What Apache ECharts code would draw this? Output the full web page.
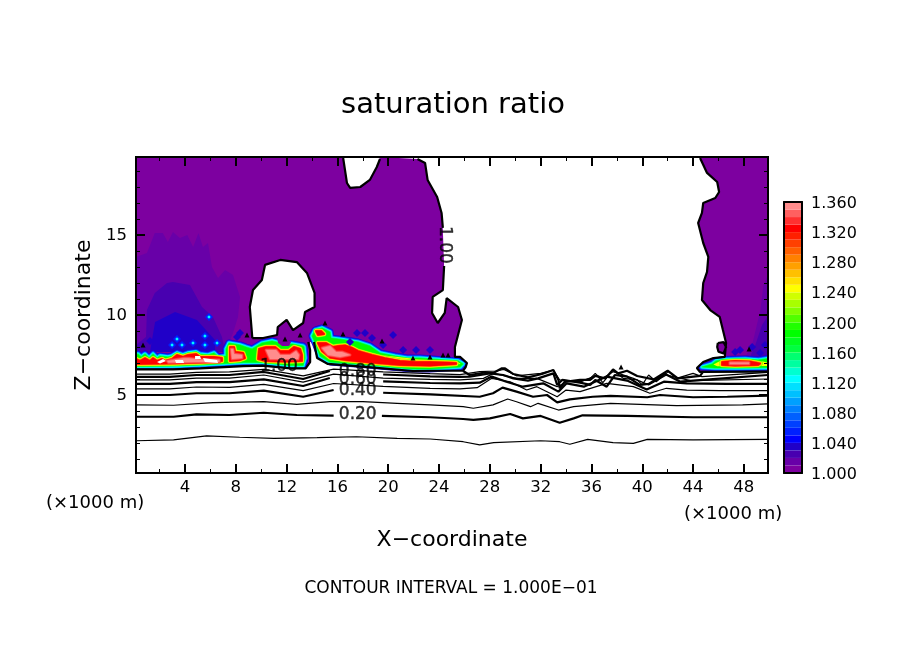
<!DOCTYPE html>
<html>
<head>
<meta charset="utf-8">
<style>html,body{margin:0;padding:0;background:#fff}#chart{width:904px;height:654px}</style>
<script src="https://cdn.jsdelivr.net/npm/echarts@6/dist/echarts.min.js"></script>
</head>
<body>
<div id="chart"></div>
<script>
// axis ranges and ticks (km)
const xRange = [0.14, 49.9];
const zRange = [0.125, 19.875];
const xMajor = [4, 8, 12, 16, 20, 24, 28, 32, 36, 40, 44, 48];
const xMinor = [2, 6, 10, 14, 18, 22, 26, 30, 34, 38, 42, 46];
const zMajor = [5, 10, 15];
const zMinor = [1, 2, 3, 4, 6, 7, 8, 9, 11, 12, 13, 14, 16, 17, 18, 19];
const barTicks = [1.00, 1.01, 1.02, 1.03, 1.04, 1.05, 1.06, 1.07, 1.08, 1.09, 1.10, 1.11, 1.12, 1.13, 1.14, 1.15, 1.16, 1.17,
  1.18, 1.19, 1.20, 1.21, 1.22, 1.23, 1.24, 1.25, 1.26, 1.27, 1.28, 1.29, 1.30, 1.31, 1.32, 1.33, 1.34, 1.35];

// contour lines, null = gap for a label
const contour01 = [[0.14,2.14],[3.1,2.19],[5.7,2.44],[8.3,2.36],[11,2.29],[14.4,2.33],[17.5,2.39],[20.7,2.29],[23.3,2.25],[25.9,2.08],[27.2,1.88],[28.3,2.02],[32,2.14],[33.5,2.08],[34.3,1.92],[35.7,2.23],[37.7,2.02],[39.3,1.98],[40.4,2.23],[44,2.19],[49.9,2.23]];
const contour02 = [[0.14,3.64],[3.1,3.64],[4.9,3.79],[7.5,3.75],[10.2,3.89],[12.8,3.75],[15.7,3.71],null,[19.5,3.69],[23.3,3.61],[25.9,3.5],[26.7,3.44],[28,3.54],[29.6,3.81],[30.6,3.54],[32,3.69],[33.5,3.27],[34.6,3.54],[35.3,3.73],[38.8,3.69],[44,3.61],[49.9,3.61]];
const contour03 = [[0.14,4.38],[3.1,4.36],[6.2,4.52],[10.2,4.58],[12.8,4.42],[15.4,4.58],[18,4.58],[20.7,4.48],[23.3,4.38],[25.9,4.27],[26.7,4.17],[28.25,4.38],[29.4,4.75],[30.1,4.58],[31.2,4.27],[31.8,4.48],[33.4,4.06],[34.6,4.27],[37.5,4.48],[42.7,4.33],[47.9,4.38],[49.9,4.44]];
const contour04 = [[0.14,5],[2.8,5],[4.9,5.11],[7.5,5.11],[10.2,5.27],[13.3,4.89],[15.7,5.31],null,[19.6,5.14],[23.3,5.04],[27.2,4.89],[28.25,5.11],[29,5.46],[30.1,5.21],[31.4,4.89],[32.5,5],[33.3,4.54],[34.3,4.73],[36.1,4.89],[37.5,4.94],[40.4,4.86],[41.4,5],[44,4.86],[46.7,4.89],[49.9,4.96]];
const contour05 = [[0.14,5.38],[2.8,5.38],[4.9,5.5],[7.5,5.48],[10.2,5.66],[13.3,5.27],[15.7,5.72],[19.6,5.54],[23.3,5.42],[25.65,5.38],[27,5.46],[28.15,6.04],[29.6,5.83],[30.9,5.31],[31.7,5.52],[33.3,4.89],[34,5.31],[35.1,5.21],[37.2,5.73],[39.3,5.52],[40.6,5.11],[41.9,5.42],[43.5,5.31],[46.1,5.27],[49.9,5.27]];
const contour06 = [[0.14,5.69],[2.8,5.69],[4.9,5.81],[7.5,5.8],[10.2,5.98],[13.3,5.56],[15.4,6.06],null,[19.6,5.85],[23.3,5.75],[25.65,5.73],[27.2,5.77],[28.15,6.15],[29.3,5.83],[30.6,5.52],[32.2,5.73],[33.4,5.21],[34.05,5.73],[35.4,5.52],[37.2,6.15],[38.8,5.9],[40.35,5.35],[41.7,5.83],[43.5,5.73],[46.65,5.69],[49.9,5.69]];
const contour07 = [[0.14,5.94],[2.8,5.94],[4.9,6.06],[7.5,6.05],[10.2,6.25],[13.3,5.8],[15.7,6.3],[19.6,6.06],[23.3,5.98],[25.65,5.94],[27.5,6.04],[28.3,6.35],[30.1,6.04],[31.7,6.04],[33.3,5.52],[34.05,5.83],[35.2,5.83],[36.4,6.25],[36.9,6.04],[37.7,6.46],[39.3,6.04],[40.5,5.63],[41.9,6.25],[43.8,5.9],[49.9,6]];
const contour08 = [[0.14,6.13],[2.8,6.13],[4.9,6.25],[7.5,6.25],[10.2,6.44],[13.3,6],[15.4,6.5],null,[19.6,6.28],[23.3,6.17],[25.65,6.13],[26.4,6.15],[28,6.35],[29.05,6.25],[29.85,6.04],[31,5.9],[31.8,6.04],[33,6.35],[33.3,5.63],[33.7,5.94],[35.1,5.77],[35.9,5.63],[36.3,5.94],[37.2,5.52],[37.85,6.25],[38.8,6.15],[39.8,5.63],[40.5,5.69],[41.8,6.31],[43,5.83],[45.3,5.98],[49.9,6.25]];
const contour09 = [[0.14,6.31],[2.8,6.31],[4.9,6.42],[7.5,6.45],[10.2,6.6],[13.3,6.2],[15.7,6.62],[19.6,6.45],[23.3,6.33],[25.65,6.27],[27.2,6.46],[28.5,6.5],[29.1,6.6],[30.1,6.2],[32,6.35],[33,6.56],[33.5,5.94],[34.85,5.83],[35.9,6.04],[36.3,6.35],[36.9,5.77],[37.7,6.56],[38.5,6.04],[39.6,5.94],[40,5.63],[40.5,6.25],[41.1,5.83],[42.05,6.46],[42.7,6.04],[44,6.35],[44.7,6.15],[49.9,6.42]];
const contour10 = [
  [0.14,6.6],[3.05,6.6],[5.2,6.67],[8.6,6.81],[10.1,6.83],[12.3,6.67],[13.5,6.67],[13.85,7.06],[13.85,7.81],[13.7,8.31],null,
  [14.15,8.31],[14.4,7.31],[15.25,6.94],[18,6.77],[21.95,6.5],[25.9,6.53],[26.1,6.75],[26.2,7],[25.65,7.38],[25.25,7.38],[25.25,8],[25.8,9.69],[25.5,10.5],[24.6,11.06],[24.45,10.13],[23.9,9.5],[23.45,10.13],[23.5,11.13],[24.3,11.56],[24.4,13.06],null,
  [24.3,15.44],[24.2,16.38],[23.85,17.38],[23.1,18.44],[22.9,19.5],[22.3,19.75],null,
  [16.45,19.81],[16.75,18.25],[17,17.94],[17.8,18],[18.55,18.44],[19.1,19.25],[19.35,19.75],null,
  [9.3,8.56],[9.1,10.5],[9.35,11.56],[10.05,12.19],[10.3,13.13],[11.5,13.44],[12.8,13.31],[13.6,12.63],[14.2,11.38],[14.2,10.5],[13.45,10.19],[13.3,9.5],[12.5,9.06],[12,9.69],[11.3,9.25],[11.25,8.75],[10.15,8.56],[9.3,8.56],null,
  [25.9,6.5],[26.4,6.25],[27.5,6.39],[28.3,6.39],[28.95,6.67],[29.2,6.67],[29.85,6.31],[31,6.1],[32.1,6.31],[33,6.56],[33.4,5.94],[33.5,5.42],[33.9,5.83],[35.1,5.94],[35.9,5.94],[36.3,6.19],[37.1,6.04],[37.7,6.6],[38.1,6.35],[38.8,6.52],[39.6,6.19],[40.9,5.98],[42,6.52],[42.8,6.04],[44.55,6.19],[44.8,6.46],null,
  [44.55,19.81],[45.1,18.88],[45.9,18.31],[46.05,17.69],[45.75,17.31],[44.8,17],[44.7,16.38],[44.4,15.75],[44.8,14.5],[45.2,13.63],[45.1,12.69],[44.8,12],[44.7,10.94],[45.35,10.31],[46.1,9.88],[46.35,9.06],[46.6,8.25],[46.5,7.38],[45.6,7.31],[44.8,7.06],[44.3,6.69],[44.55,6.44],[49.9,6.46],null,
  [45.95,8.25],[46.4,8.3],[46.6,8],[46.4,7.6],[46,7.7],[45.9,8],[45.95,8.25]
];
const thinContours = [contour01, contour03, contour05, contour07, contour09];
const thickContours = [contour02, contour04, contour06, contour08, contour10];

// contour labels: x, z, text, rotation
const contourLabels = [[11.4,6.75,'1.00',0],[17.6,6.44,'0.80',0],[17.6,5.94,'0.60',0],[17.6,5.25,'0.40',0],[17.6,3.75,'0.20',0],[24.4,14.38,'1.00',-90]];

// filled regions (outline of the area above a saturation level)
const purpleLeft = [[0.14,19.875],[16.45,19.875],[16.75,18.25],[17,17.94],[17.8,18],[18.55,18.44],[19.1,19.25],[19.35,19.875],[22.3,19.75],[22.9,19.5],[23.1,18.44],[23.85,17.38],[24.2,16.38],[24.3,15.31],[24.4,13],[24.3,11.56],[23.5,11.13],[23.45,10.13],[23.9,9.5],[24.45,10.13],[24.6,11.06],[25.5,10.5],[25.8,9.69],[25.25,8],[25.25,7.38],[26.2,7],[25.9,6.53],[21.95,6.5],[18,6.77],[15.25,6.94],[14.4,7.31],[14.15,8.31],[13.85,8.31],[13.85,7.06],[13.5,6.67],[10.1,6.83],[5.2,6.67],[0.14,6.6]];
const purpleRight = [[44.55,19.875],[45.1,18.88],[45.9,18.31],[46.05,17.69],[45.75,17.31],[44.8,17],[44.7,16.38],[44.4,15.75],[44.8,14.5],[45.2,13.63],[45.1,12.69],[44.8,12],[44.7,10.94],[45.35,10.31],[46.1,9.88],[46.35,9.06],[46.6,8.25],[46.5,7.38],[45.6,7.31],[44.8,7.06],[44.3,6.69],[44.55,6.44],[50.2,6.46],[50.2,19.875]];
const purpleOval = [[45.95,8.25],[46.4,8.3],[46.6,8],[46.4,7.6],[46,7.7],[45.9,8]];
const holeWhite = [[9.3,8.56],[9.1,10.5],[9.35,11.56],[10.05,12.19],[10.3,13.13],[11.5,13.44],[12.8,13.31],[13.6,12.63],[14.2,11.38],[14.2,10.5],[13.45,10.19],[13.3,9.5],[12.5,9.06],[12,9.69],[11.3,9.25],[11.25,8.75],[10.15,8.56]];
const shadeLeft1 = [[0.14,13.63],[1,13.88],[1.62,15.13],[2.25,15.13],[2.65,14.56],[3.05,15.19],[3.6,14.81],[4.18,15],[4.64,14.25],[5.06,15.13],[5.41,14.25],[5.81,14.5],[6.12,13],[6.6,12.31],[7.15,12.81],[7.78,12.5],[8.33,11.13],[8.17,9.88],[7.78,8.88],[7.15,7.69],[0.14,7.69]];
const shadeLeft2 = [[0.93,8.63],[1,10.31],[1.62,11.38],[2.58,12],[3.05,12.06],[4.39,11.88],[5.34,10.5],[6.2,9.88],[6.91,8.63],[7.15,7.69],[0.14,7.69],[0.14,8.13]];
const shadeLeft3 = [[1.64,9.56],[3.21,10.19],[4.94,9.69],[6.36,8.44],[6.36,7.69],[1.24,7.69]];
const shadeRight1 = [[50.2,13.13],[49.55,11.88],[49.3,10.31],[48.65,8.13],[48.1,7.38],[50.2,7.38]];
const shadeRight2 = [[50.2,10.31],[49.43,9.38],[48.9,8.13],[48.49,7.38],[50.2,7.38]];
const pocketPurple = [[11.25,8.5],[11.87,8.56],[12.35,8.31],[12.19,8.06],[11.64,8.06],[11.33,8.25]];
const greenLeft = [[0.14,6.78],[3.06,6.81],[5.18,6.88],[8.57,7.03],[10.14,7.03],[12.27,6.84],[13.29,6.84],[13.45,7.31],[13.37,8],[13.29,8.06],[12.43,8.19],[11.8,8.19],[10.85,8.38],[10.06,8.25],[9.28,7.88],[8.8,8],[8.33,8.13],[7.46,8.25],[7.23,7.88],[7.23,7.44],[6.6,7.38],[6.28,7.63],[5.81,7.5],[5.18,7.56],[4.87,7.69],[4.24,7.63],[3.84,7.5],[3.37,7.63],[2.98,7.44],[2.66,7.38],[2.03,7.44],[1.8,7.31],[1.48,7.56],[1.17,7.31],[0.85,7.56],[0.54,7.38],[0.3,7.56],[0.14,7.5]];
const greenMiddle = [[14,8.69],[14.24,9.06],[14.79,9.19],[15.42,8.94],[15.5,8.56],[16.6,8.44],[17.62,8.31],[18.57,8.06],[19.35,7.63],[20.54,7.44],[21.48,7.31],[22.5,7.31],[24.47,7.19],[25.5,7.13],[25.89,6.94],[25.65,6.75],[23.29,6.63],[21.95,6.63],[18.02,6.91],[15.42,7.06],[14.63,7.44],[14.31,8.13]];
const greenRight = [[44.71,6.75],[45.5,6.94],[45.81,7.13],[46.44,7.22],[48.1,7.25],[49.12,7.19],[50.2,7.31],[50.2,6.72],[47.31,6.69],[45.73,6.69]];
const yellowMiddle = [[19.35,7.5],[22.5,7.22],[25.5,7.06],[25.7,6.94],[23.3,6.75],[18.6,6.98]];
const yellowRight = [[45.6,6.9],[46.2,7.15],[48.5,7.2],[49.5,7.1],[50.2,6.95],[50.2,6.82],[47.3,6.8],[45.9,6.8]];
const redLeft = [[0.14,6.94],[3.06,6.97],[5.18,7.03],[6.91,7.13],[6.91,7.31],[6.28,7.38],[5.81,7.38],[5.18,7.38],[4.87,7.56],[4.24,7.5],[3.84,7.38],[3.37,7.5],[2.98,7.25],[2.43,7.13],[2.19,7.25],[1.8,7.13],[1.48,7.3],[1.24,7.13],[0.85,7.3],[0.46,7.13],[0.14,7.25]];
const redBlock1 = [[7.54,8],[7.86,8],[7.94,7.69],[8.57,7.63],[8.72,7.31],[8.33,7.19],[7.54,7.13]];
const redBlock2 = [[9.83,7.88],[10.38,8],[11.09,8],[11.48,7.75],[12.19,7.75],[12.58,8],[13.06,7.88],[13.21,7.5],[13.21,7.13],[11.87,7.09],[10.3,7.13],[9.75,7.25]];
const redMiddle = [[14.47,8.25],[15.1,8.25],[15.65,8],[16.05,8.06],[16.6,8.1],[17.15,7.95],[17.62,7.75],[18.72,7.5],[19.75,7.3],[20.93,7.13],[22.11,7.06],[23.29,7.06],[24.47,7.03],[25.34,7],[25.34,6.94],[23.29,6.84],[20.93,6.88],[18.57,7.03],[16.6,7.19],[15.42,7.34],[14.79,7.75]];
const redTop = [[14.31,9],[14.71,9],[14.95,8.81],[14.47,8.75]];
const redRight = [[46.28,7.06],[47.31,7.13],[48.49,7.09],[49.28,6.97],[49.12,6.88],[47.31,6.84],[46.28,6.88]];
const pinkBlock1 = [[7.62,7.88],[7.78,7.88],[7.86,7.56],[8.49,7.5],[8.49,7.31],[7.7,7.25]];
const pinkBlock2 = [[10.38,7.81],[11.17,7.81],[11.48,7.5],[12.27,7.5],[12.74,7.75],[12.97,7.5],[12.9,7.25],[10.69,7.25]];
const pinkMiddle = [[14.79,7.94],[15.42,8.06],[15.89,7.69],[16.36,7.69],[16.99,7.5],[16.2,7.38],[15.26,7.5]];
const pinkLeft = [[2.6,7.13],[3.9,7.3],[4.3,7.3],[5.3,7.2],[6.7,7.2],[6.7,7.06],[4.9,7.06],[2.7,7.03]];
const pinkRight = [[46.9,7.03],[48.4,7.03],[48.4,6.94],[46.9,6.94]];
const whiteSpot1 = [[1.8,7.06],[2.27,7.25],[2.5,7.13],[2.03,6.97]];
const whiteSpot2 = [[3.21,7.19],[3.84,7.19],[3.92,7],[3.29,7]];
const whiteSpot3 = [[4.79,7.44],[5.18,7.44],[5.26,7.25],[4.79,7.25]];
const whiteSpot4 = [[5.41,7.31],[6.52,7.19],[6.6,7],[5.57,7.06]];

// isolated patches and tiny closed contours
const cyanPatches = [[2.98,8.13],[3.76,8.13],[4.63,8.25],[5.57,8.13],[5.57,8.69],[6.52,8.25],[3.37,8.5],[5.89,9.88]];
const bluePatches = [[8.09,8.63],[8.33,8.88],[17.54,8.88],[18.17,8.88],[20.38,8.75],[19.59,8.13],[21.17,7.81],[22.19,7.81],[23.29,7.81],[16.99,8.31],[18.72,8.56],[47.7,7.81],[48.65,8],[49.28,7.63],[49.66,8.13],[47.31,7.69],[1.24,8.38]];
const specks = [[8.88,8.75],[15.02,9.5],[16.44,8.81],[19.51,8.38],[13.06,8.75],[11.87,8.5],[21.95,7.31],[23.29,7.38],[24.31,7.5],[24.71,7.5],[0.69,8.13],[48.41,7.88],[38.33,6.75]];

const regions = [
  [1.00, purpleLeft], [1.00, purpleRight], [1.00, purpleOval],
  [1.01, shadeLeft1], [1.02, shadeLeft2], [1.03, shadeLeft3], [1.01, shadeRight1], [1.02, shadeRight2],
  [1.37, holeWhite],
  [1.18, greenLeft], [1.18, greenMiddle], [1.18, greenRight],
  [1.00, pocketPurple],
  [1.24, yellowMiddle], [1.24, yellowRight],
  [1.32, redLeft], [1.32, redBlock1], [1.32, redBlock2], [1.32, redMiddle], [1.32, redTop], [1.32, redRight],
  [1.35, pinkBlock1], [1.35, pinkBlock2], [1.35, pinkMiddle], [1.35, pinkLeft], [1.35, pinkRight],
  [1.37, whiteSpot1], [1.37, whiteSpot2], [1.37, whiteSpot3], [1.37, whiteSpot4]
];

const palette = ['#7d00a0','#6800a8','#4800b0','#2000c8','#0000ff','#0020ff','#0040ff','#0060ff','#0080ff','#00a0ff','#00c0ff','#00e0ff',
  '#00ffff','#00ffd0','#00ffa0','#00ff70','#00ff40','#00ff20','#00ff00','#20ff00','#50ff00','#80ff00','#a8ff00','#d0ff00',
  '#ffff00','#ffe000','#ffc000','#ffa000','#ff8000','#ff6000','#ff4000','#ff2000','#ff0000','#ff3030','#ff6060','#ff8c8c'];

function levelColor(v) {
  const idx = Math.round((v - 1) / 0.01);
  return idx >= palette.length ? '#fff' : palette[idx];
}

// stroke widths that draw the steep colour ramp around a core polygon
const halos = {
  1.18: [[7, 1.03], [6, 1.05], [4.6, 1.08], [3.2, 1.12], [1.6, 1.15]],
  1.32: [[5, 1.2], [4, 1.24], [3, 1.27], [2, 1.3], [1.2, 1.32]],
  1.35: [[3, 1.33], [1.5, 1.34]]
};

function renderRegion(params, api) {
  const r = regions[params.dataIndex];
  const pts = r[1].map(p => api.coord(p));
  const children = (halos[r[0]] || []).map(h => ({
    type: 'polygon',
    shape: { points: pts },
    style: { fill: levelColor(h[1]), stroke: levelColor(h[1]), lineWidth: h[0], lineJoin: 'round' }
  }));
  children.push({ type: 'polygon', shape: { points: pts }, style: { fill: levelColor(r[0]) } });
  return { type: 'group', children: children };
}

function renderBarCell(params, api) {
  const v = api.value(1);
  const a = api.coord([0, v]);
  const b = api.coord([1, v + 0.01]);
  return { type: 'rect', shape: { x: a[0], y: b[1], width: b[0] - a[0], height: a[1] - b[1] }, style: { fill: levelColor(v) } };
}

const blackLine = { onZero: false, lineStyle: { color: '#000', width: 2 } };

function mainAxis(range, position, ticks, len, extra) {
  return Object.assign({
    type: 'value', min: range[0], max: range[1], position: position, z: 10,
    axisLine: blackLine, splitLine: { show: false },
    axisTick: { show: true, inside: true, length: len, customValues: ticks, lineStyle: { color: '#000', width: len > 5 ? 2 : 1 } },
    axisLabel: { show: false }
  }, extra || {});
}

function barAxis(range, position, extra) {
  return Object.assign({
    type: 'value', gridIndex: 1, min: range[0], max: range[1], position: position, z: 10,
    axisLine: blackLine, axisTick: { show: false }, splitLine: { show: false }, axisLabel: { show: false }
  }, extra || {});
}

const labelFont = { color: '#000', fontSize: 16.5 };
const axisNameFont = { color: '#000', fontSize: 22 };

const xAxes = [
  mainAxis(xRange, 'bottom', xMajor, 9, {
    axisLabel: Object.assign({ show: true, margin: 6, customValues: xMajor }, labelFont),
    name: 'X\u2212coordinate', nameLocation: 'middle', nameGap: 56, nameTextStyle: axisNameFont
  }),
  mainAxis(xRange, 'top', xMajor, 9),
  mainAxis(xRange, 'bottom', xMinor, 4),
  mainAxis(xRange, 'top', xMinor, 4),
  barAxis([0, 1], 'bottom'),
  barAxis([0, 1], 'top')
];

const yAxes = [
  mainAxis(zRange, 'left', zMajor, 9, {
    axisLabel: Object.assign({ show: true, margin: 9, verticalAlign: 'top', lineHeight: 2, customValues: zMajor }, labelFont),
    name: 'Z\u2212coordinate', nameLocation: 'middle', nameGap: 41, nameTextStyle: axisNameFont
  }),
  mainAxis(zRange, 'right', zMajor, 9),
  mainAxis(zRange, 'left', zMinor, 4),
  mainAxis(zRange, 'right', zMinor, 4),
  barAxis([1, 1.36], 'left'),
  barAxis([1, 1.36], 'right', {
    interval: 0.04,
    axisLabel: Object.assign({ show: true, margin: 9, verticalAlign: 'top', lineHeight: 4, formatter: v => v.toFixed(3) }, labelFont, { fontSize: 16 })
  })
];

const series = [{
  type: 'custom', silent: true, clip: true, z: 2, xAxisIndex: 0, yAxisIndex: 0,
  renderItem: renderRegion,
  data: regions.map((r, i) => [i, r[0]])
}, {
  type: 'scatter', silent: true, z: 3, symbol: 'diamond', symbolSize: 8, itemStyle: { color: levelColor(1.05), opacity: 1 }, data: cyanPatches
}, {
  type: 'scatter', silent: true, z: 3, symbol: 'diamond', symbolSize: 3.5, itemStyle: { color: levelColor(1.12), opacity: 1 }, data: cyanPatches
}, {
  type: 'scatter', silent: true, z: 3, symbol: 'diamond', symbolSize: 8, itemStyle: { color: levelColor(1.03), opacity: 1 }, data: bluePatches
}, {
  type: 'custom', silent: true, z: 2, xAxisIndex: 4, yAxisIndex: 4,
  renderItem: renderBarCell,
  data: barTicks.map(v => [0, v])
}];

thinContours.concat(thickContours).forEach((c, i) => {
  series.push({
    type: 'line', silent: true, z: 5, symbol: 'none', animation: false,
    lineStyle: { color: '#000', width: i < thinContours.length ? 1.2 : 2.2 },
    data: c.map(p => p === null ? ['-', '-'] : p)
  });
});

series.push({
  type: 'scatter', silent: true, z: 6, symbol: 'triangle', symbolSize: 5, itemStyle: { color: '#000', opacity: 1 }, data: specks
}, {
  type: 'scatter', silent: true, z: 7, symbolSize: 0,
  label: { show: true, position: 'inside', color: '#000', fontSize: 17, textBorderColor: '#000', textBorderWidth: 0.4 },
  data: contourLabels.map(l => ({ value: [l[0], l[1]], label: { formatter: l[2], rotate: l[3] } }))
});

const chart = echarts.init(document.getElementById('chart'), null, { renderer: 'canvas' });
chart.setOption({
  animation: false,
  backgroundColor: '#fff',
  textStyle: { fontFamily: 'DejaVu Sans' },
  title: [
    { text: 'saturation ratio', left: 448, top: 86, textAlign: 'center', textStyle: { fontSize: 29, fontWeight: 'normal', color: '#000', fontFamily: 'DejaVu Sans' } },
    { text: 'CONTOUR INTERVAL = 1.000E\u221201', left: 446, top: 575, textAlign: 'center', textStyle: { fontSize: 17, fontWeight: 'normal', color: '#000', fontFamily: 'DejaVu Sans' } },
    { text: '(\u00d71000 m)', left: 41, top: 489, textStyle: { fontSize: 18, fontWeight: 'normal', color: '#000', fontFamily: 'DejaVu Sans' } },
    { text: '(\u00d71000 m)', left: 679, top: 500, textStyle: { fontSize: 18, fontWeight: 'normal', color: '#000', fontFamily: 'DejaVu Sans' } }
  ],
  grid: [
    { left: 136, right: 136, top: 157, bottom: 181 },
    { left: 784, width: 18, top: 202, bottom: 181 }
  ],
  xAxis: xAxes,
  yAxis: yAxes,
  series: series
});
</script>
</body>
</html>
